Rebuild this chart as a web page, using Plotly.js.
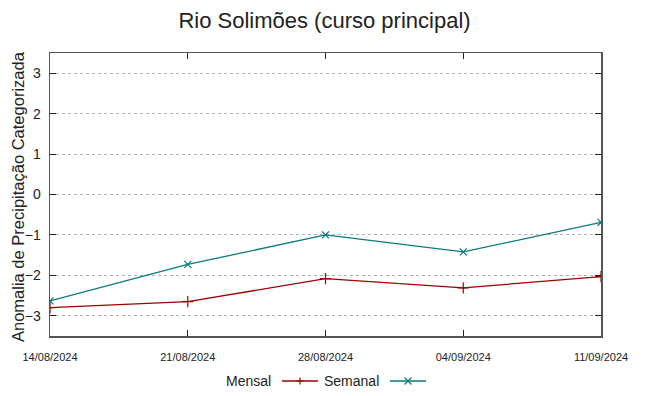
<!DOCTYPE html>
<html>
<head>
<meta charset="utf-8">
<script src="https://cdn.plot.ly/plotly-3.0.1.min.js"></script>
<style>html,body{margin:0;padding:0;background:#fff;}#chart{width:649px;height:396px;}</style>
</head>
<body>
<div id="chart"></div>
<script>
const dates = ['2024-08-14', '2024-08-21', '2024-08-28', '2024-09-04', '2024-09-11'];
const tickLabels = ['14/08/2024', '21/08/2024', '28/08/2024', '04/09/2024', '11/09/2024'];
const mensal = [-2.80, -2.65, -2.08, -2.31, -2.03];
const semanal = [-2.63, -1.73, -1.00, -1.42, -0.69];
const yTicks = [-3, -2, -1, 0, 1, 2, 3];
const seriesNames = ['Mensal', 'Semanal'];
const seriesColors = ['#a00000', '#0a7a7a'];
const yTitle = 'Anomalia de Precipitação Categorizada';

const W = 649, H = 396;
const M = {l: 50, r: 48, t: 53, b: 60};
const pw = W - M.l - M.r, ph = H - M.t - M.b;
const px = v => (v - M.l) / pw;
const py = v => (H - M.b - v) / ph;

const traces = [
  {
    x: dates, y: mensal, name: seriesNames[0], type: 'scatter', mode: 'lines+markers',
    line: {color: seriesColors[0], width: 1.3},
    marker: {symbol: 'cross-thin-open', size: 8, line: {color: seriesColors[0], width: 1.2}}
  },
  {
    x: dates, y: semanal, name: seriesNames[1], type: 'scatter', mode: 'lines+markers',
    line: {color: seriesColors[1], width: 1.3},
    marker: {symbol: 'x-thin-open', size: 7, line: {color: seriesColors[1], width: 1.2}}
  }
];

// custom gnuplot-style legend: text then sample
const legendY = 381;
const legendItems = [
  {textRight: 273, lineL: 282, lineR: 318, sym: 'plus'},
  {textRight: 381, lineL: 390, lineR: 426, sym: 'x'}
];
const annotations = [{
  xref: 'paper', yref: 'paper', x: px(18), y: py(197), xanchor: 'center', yanchor: 'middle',
  textangle: -90, showarrow: false, text: yTitle, font: {size: 16.5, color: '#222'}
}];
const shapes = [];
legendItems.forEach((it, i) => {
  annotations.push({
    xref: 'paper', yref: 'paper', x: px(it.textRight), y: py(legendY),
    xanchor: 'right', yanchor: 'middle', showarrow: false,
    text: seriesNames[i], font: {size: 14, color: '#222'}
  });
  shapes.push({
    type: 'line', xref: 'paper', yref: 'paper',
    x0: px(it.lineL), x1: px(it.lineR), y0: py(legendY), y1: py(legendY),
    line: {color: seriesColors[i], width: 1.3}
  });
  const cx = (it.lineL + it.lineR) / 2, s = 3.5;
  let path;
  if (it.sym === 'plus') {
    path = `M${px(cx - s)},${py(legendY)} L${px(cx + s)},${py(legendY)} M${px(cx)},${py(legendY - s)} L${px(cx)},${py(legendY + s)}`;
  } else {
    path = `M${px(cx - s)},${py(legendY - s)} L${px(cx + s)},${py(legendY + s)} M${px(cx - s)},${py(legendY + s)} L${px(cx + s)},${py(legendY - s)}`;
  }
  shapes.push({type: 'path', xref: 'paper', yref: 'paper', path: path,
    line: {color: seriesColors[i], width: 1.2}});
});

const layout = {
  width: W, height: H,
  margin: M,
  paper_bgcolor: '#fff', plot_bgcolor: '#fff',
  font: {family: 'Liberation Sans, Arial, sans-serif', color: '#222'},
  title: {text: 'Rio Solimões (curso principal)', x: 0.5, xanchor: 'center', y: 0.95, yanchor: 'middle',
          font: {size: 22, color: '#222'}},
  xaxis: {
    type: 'date', range: [dates[0], dates[dates.length - 1]],
    tickvals: dates, ticktext: tickLabels, automargin: false,
    showgrid: false, zeroline: false,
    showline: true, linecolor: '#555', linewidth: 1.5, mirror: 'ticks',
    ticks: 'inside', ticklen: 6, tickcolor: '#222', tickwidth: 1,
    ticklabelstandoff: 10,
    tickfont: {family: 'Liberation Sans Narrow, Arial Narrow, sans-serif', size: 11, color: '#222'}
  },
  yaxis: {
    range: [-3.5, 3.5], tickvals: yTicks, automargin: false,
    showgrid: true, gridcolor: '#b0b0b0', griddash: 'dot', gridwidth: 1,
    zeroline: false,
    showline: true, linecolor: '#555', linewidth: 1.5, mirror: 'ticks',
    ticks: 'inside', ticklen: 6, tickcolor: '#222', tickwidth: 1,
    ticklabelstandoff: 5,
    tickfont: {size: 14, color: '#222'}
  },
  showlegend: false,
  annotations: annotations,
  shapes: shapes
};

Plotly.newPlot('chart', traces, layout, {displayModeBar: false, staticPlot: true});
</script>
</body>
</html>
